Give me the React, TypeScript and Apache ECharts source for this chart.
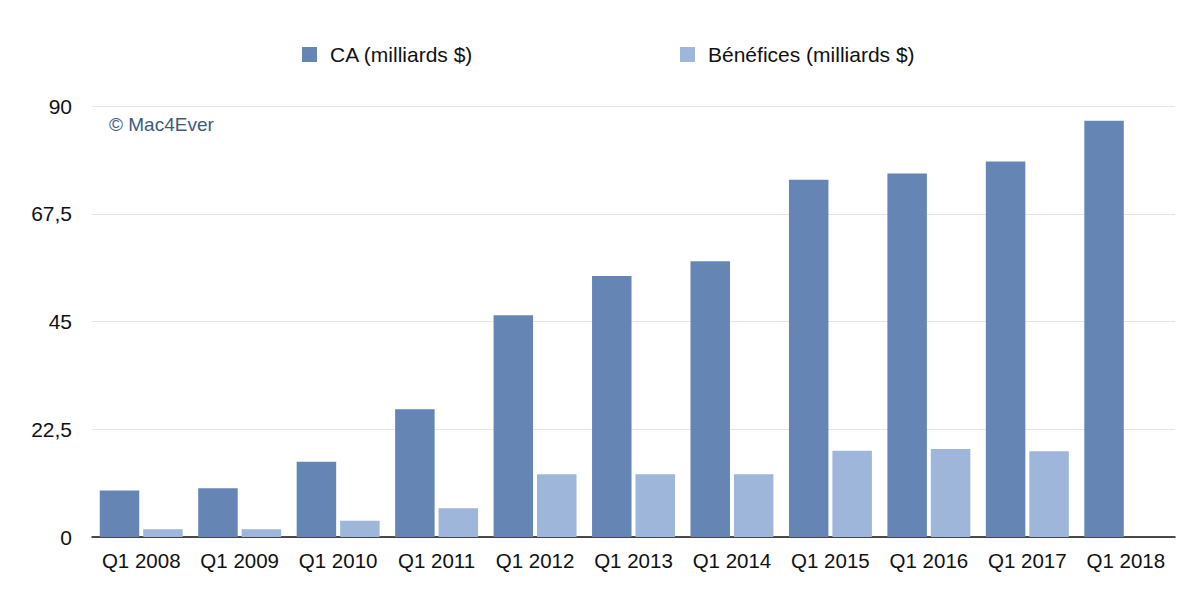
import React, { useEffect, useRef } from "react";
import * as echarts from "echarts";

const categories = ["Q1 2008", "Q1 2009", "Q1 2010", "Q1 2011", "Q1 2012", "Q1 2013", "Q1 2014", "Q1 2015", "Q1 2016", "Q1 2017", "Q1 2018"];
const caValues = [9.7, 10.2, 15.7, 26.7, 46.3, 54.5, 57.6, 74.6, 75.9, 78.4, 86.9];
const beneficeValues: (number | null)[] = [1.6, 1.6, 3.4, 6.0, 13.1, 13.1, 13.1, 18.0, 18.4, 17.9, null];
const yTicks = [0, 22.5, 45, 67.5, 90];
const seriesNames = ["CA (milliards $)", "Bénéfices (milliards $)"];

const FONT = "'Liberation Sans', Arial, Helvetica, sans-serif";

export default function App() {
  const ref = useRef<HTMLDivElement>(null);
  useEffect(() => {
    if (!ref.current) return;
    const chart = echarts.init(ref.current, undefined, { renderer: "svg" });
    const legendText = { fontSize: 21, color: "#111", fontFamily: FONT, padding: [0, 0, 0, 8] };
    chart.setOption({
      animation: false,
      backgroundColor: "#ffffff",
      textStyle: { fontFamily: FONT },
      grid: { left: 92, right: 25, top: 106, bottom: 58, containLabel: false },
      legend: [
        {
          data: [seriesNames[0]],
          left: 297,
          top: 39,
          itemWidth: 15,
          itemHeight: 15,
          icon: "rect",
          textStyle: legendText,
        },
        {
          data: [seriesNames[1]],
          left: 675,
          top: 39,
          itemWidth: 15,
          itemHeight: 15,
          icon: "rect",
          textStyle: legendText,
        },
      ],
      xAxis: {
        type: "category",
        data: categories,
        axisLine: { lineStyle: { color: "#111", width: 1.5 } },
        axisTick: { show: false },
        axisLabel: { interval: 0, hideOverlap: false, fontSize: 20.5, color: "#111", margin: 13, fontFamily: FONT },
      },
      yAxis: {
        type: "value",
        min: yTicks[0],
        max: yTicks[yTicks.length - 1],
        interval: yTicks[1] - yTicks[0],
        axisLine: { show: false },
        axisTick: { show: false },
        splitLine: { lineStyle: { color: "#e4e4e4", width: 1 } },
        axisLabel: {
          fontSize: 21,
          color: "#111",
          align: "right",
          margin: 20,
          fontFamily: FONT,
          formatter: (v: number) => String(v).replace(".", ","),
        },
      },
      graphic: [
        {
          type: "text",
          left: 109,
          top: 115,
          style: { text: "© Mac4Ever", fontSize: 19, fill: "#3e5b7a", fontFamily: FONT },
        },
      ],
      series: [
        {
          name: seriesNames[0],
          type: "bar",
          data: caValues,
          barWidth: 39.5,
          barGap: "10%",
          itemStyle: { color: "#6586b5" },
        },
        {
          name: seriesNames[1],
          type: "bar",
          data: beneficeValues,
          barWidth: 39.5,
          itemStyle: { color: "#9db6d9" },
        },
      ],
    });
    return () => chart.dispose();
  }, []);
  return <div ref={ref} style={{ position: "fixed", left: 0, top: 0, width: 1200, height: 595 }} />;
}
